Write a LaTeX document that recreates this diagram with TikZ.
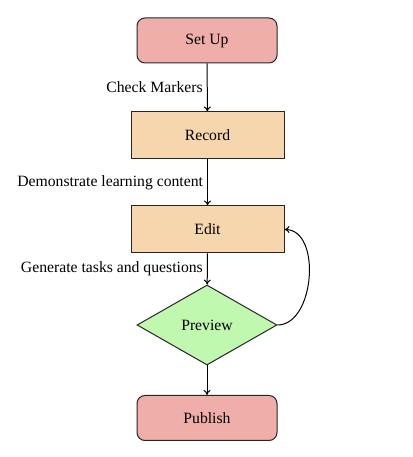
\documentclass[tikz,border=0pt]{standalone}
\usepackage{fontspec}
\setmainfont{Liberation Serif}
\usetikzlibrary{shapes.geometric,arrows.meta}
\definecolor{pinkfill}{HTML}{EFAEAA}
\definecolor{orangefill}{HTML}{F6D6AC}
\definecolor{greenfill}{HTML}{C0F8B0}
\begin{document}
\begin{tikzpicture}[x=1pt,y=1pt,
  font=\fontsize{15.7}{18}\selectfont,
  every node/.style={text=black},
  termbox/.style={draw=black!85, line width=1pt, rounded corners=8pt, fill=pinkfill, minimum width=140pt, minimum height=45pt},
  procbox/.style={draw=black!85, line width=1pt, fill=orangefill, minimum width=153pt, minimum height=47pt},
  decbox/.style={draw=black!85, line width=1pt, diamond, fill=greenfill, minimum width=140pt, minimum height=80pt, inner sep=0pt},
  flow/.style={-{To[length=5pt,width=7pt]}, line width=1pt},
  lab/.style={left, inner sep=4pt}
]
\useasboundingbox (0,0) rectangle (412,457);
\node[termbox] (setup) at (207,416.5) {Set Up};
\node[procbox] (record) at (207.5,321.5) {Record};
\node[procbox] (edit) at (207.5,227.5) {Edit};
\node[decbox] (preview) at (207,132) {Preview};
\node[termbox] (publish) at (207,39) {Publish};
\draw[flow] (setup) -- node[lab] {Check Markers} (record);
\draw[flow] (record) -- node[lab] {Demonstrate learning content} (edit);
\draw[flow] (edit) -- node[lab] {Generate tasks and questions} (preview);
\draw[flow] (preview) -- (publish);
\draw[flow] (preview.east) to[out=0,in=0] (edit.east);
\end{tikzpicture}
\end{document}
